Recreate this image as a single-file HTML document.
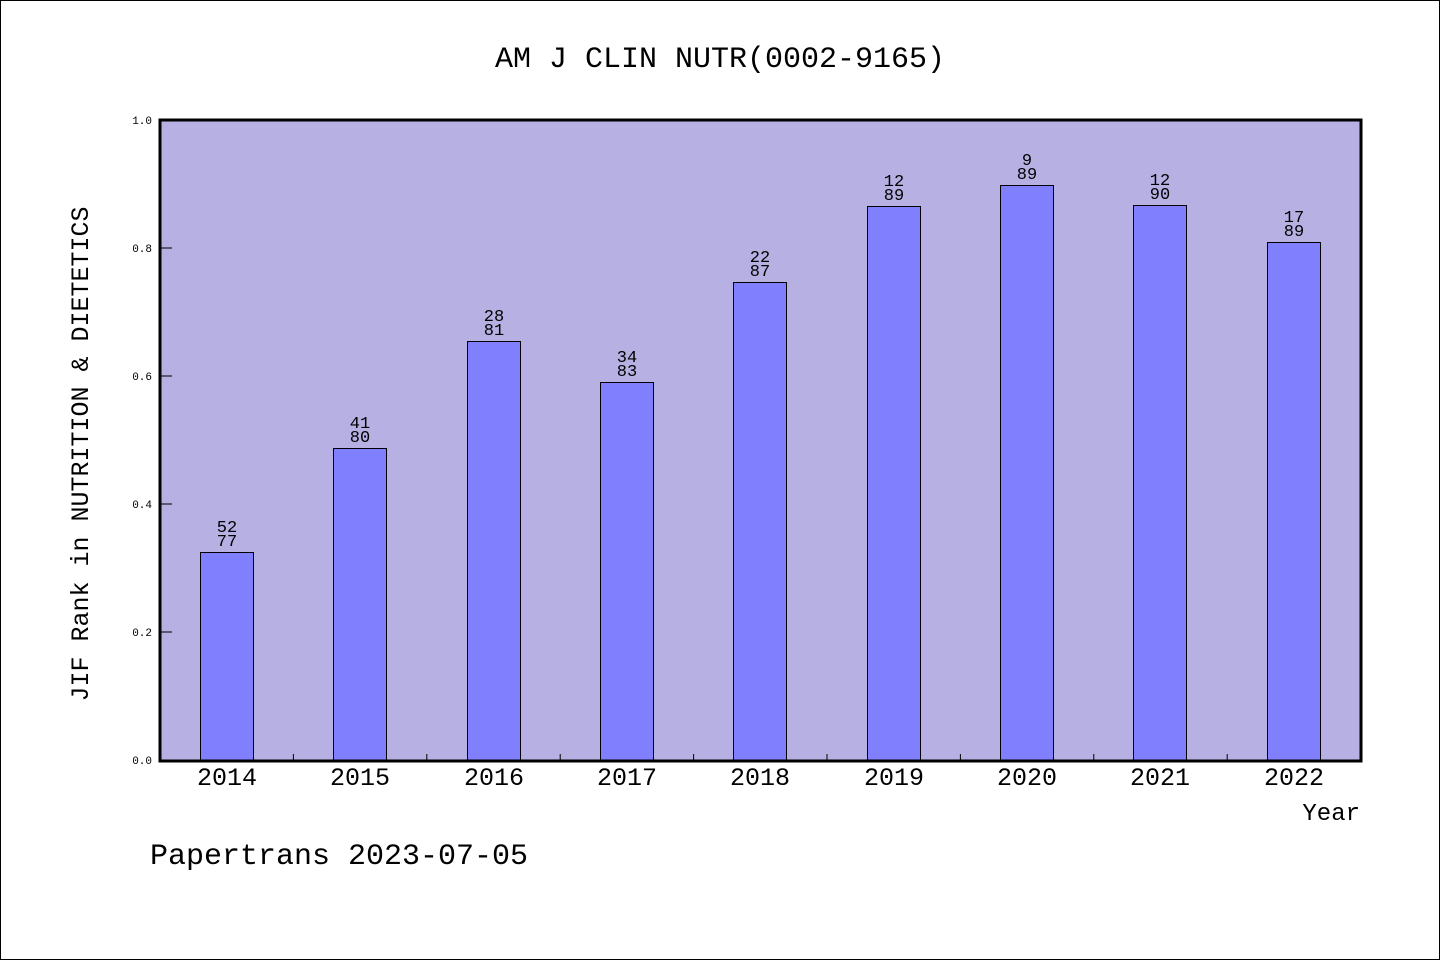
<!DOCTYPE html>
<html><head><meta charset="utf-8"><style>
html,body{margin:0;padding:0;background:#fff}
svg{display:block}
text{font-family:"Liberation Mono","WenQuanYi Zen Hei",monospace;fill:#000}
</style></head><body>
<svg width="1440" height="960" viewBox="0 0 1440 960" xmlns="http://www.w3.org/2000/svg">
<rect x="0.5" y="0.5" width="1439" height="959" fill="#fff" stroke="#000" stroke-width="1"/>
<text x="720" y="67" font-size="30" text-anchor="middle">AM J CLIN NUTR(0002-9165)</text>
<rect x="160" y="120" width="1201" height="641" fill="#b6b0e3"/>
<g stroke="#000" stroke-width="1">
<line x1="160" y1="632" x2="172" y2="632"/>
<line x1="160" y1="504" x2="172" y2="504"/>
<line x1="160" y1="376" x2="172" y2="376"/>
<line x1="160" y1="248" x2="172" y2="248"/>
<line x1="293.4" y1="760" x2="293.4" y2="754"/>
<line x1="426.8" y1="760" x2="426.8" y2="754"/>
<line x1="560.2" y1="760" x2="560.2" y2="754"/>
<line x1="693.6" y1="760" x2="693.6" y2="754"/>
<line x1="827" y1="760" x2="827" y2="754"/>
<line x1="960.4" y1="760" x2="960.4" y2="754"/>
<line x1="1093.8" y1="760" x2="1093.8" y2="754"/>
<line x1="1227.2" y1="760" x2="1227.2" y2="754"/>
</g>
<g fill="#8080ff" stroke="#000" stroke-width="1">
<rect x="200.5" y="552.5" width="53" height="208"/>
<rect x="333.5" y="448.5" width="53" height="312"/>
<rect x="467.5" y="341.5" width="53" height="419"/>
<rect x="600.5" y="382.5" width="53" height="378"/>
<rect x="733.5" y="282.5" width="53" height="478"/>
<rect x="867.5" y="206.5" width="53" height="554"/>
<rect x="1000.5" y="185.5" width="53" height="575"/>
<rect x="1133.5" y="205.5" width="53" height="555"/>
<rect x="1267.5" y="242.5" width="53" height="518"/>
</g>
<g font-size="17" text-anchor="middle">
<text x="227" y="532">52</text><text x="227" y="546">77</text>
<text x="360" y="428">41</text><text x="360" y="442">80</text>
<text x="494" y="321">28</text><text x="494" y="335">81</text>
<text x="627" y="362">34</text><text x="627" y="376">83</text>
<text x="760" y="262">22</text><text x="760" y="276">87</text>
<text x="894" y="186">12</text><text x="894" y="200">89</text>
<text x="1027" y="165">9</text><text x="1027" y="179">89</text>
<text x="1160" y="185">12</text><text x="1160" y="199">90</text>
<text x="1294" y="222">17</text><text x="1294" y="236">89</text>
</g>
<rect x="160" y="120" width="1201" height="641" fill="none" stroke="#000" stroke-width="3"/>
<g font-size="11" text-anchor="end">
<text x="152" y="764">0.0</text>
<text x="152" y="636">0.2</text>
<text x="152" y="508">0.4</text>
<text x="152" y="380">0.6</text>
<text x="152" y="252">0.8</text>
<text x="152" y="124">1.0</text>
</g>
<g font-size="25" text-anchor="middle">
<text x="227" y="785">2014</text>
<text x="360" y="785">2015</text>
<text x="494" y="785">2016</text>
<text x="627" y="785">2017</text>
<text x="760" y="785">2018</text>
<text x="894" y="785">2019</text>
<text x="1027" y="785">2020</text>
<text x="1160" y="785">2021</text>
<text x="1294" y="785">2022</text>
</g>
<text x="1360" y="820" font-size="24" text-anchor="end">Year</text>
<text x="88" y="454" font-size="25" text-anchor="middle" transform="rotate(-90 88 454)">JIF Rank in NUTRITION &amp; DIETETICS</text>
<text x="150" y="864" font-size="30">Papertrans 2023-07-05</text>
</svg>
</body></html>
